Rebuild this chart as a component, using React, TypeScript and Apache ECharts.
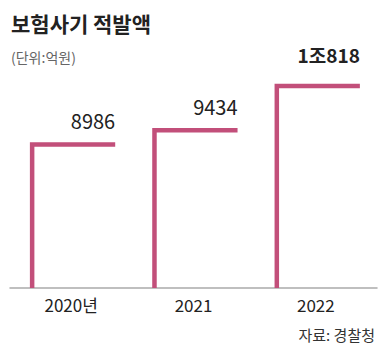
import React, { useEffect, useRef } from "react";
import * as echarts from "echarts";

const categories = ["2020년", "2021", "2022"];
const values = [8986, 9434, 10818];
const valueLabels = ["8986", "9434", "1조818"];

const PINK = "#c24f7a";
const FONT = "'Noto Sans CJK KR', 'Noto Sans', sans-serif";

export default function App() {
  const ref = useRef<HTMLDivElement>(null);
  useEffect(() => {
    if (!ref.current) return;
    const chart = echarts.init(ref.current, undefined, { renderer: "svg" });
    const option: any = {
      animation: false,
      backgroundColor: "#ffffff",
      title: [
        {
          text: "보험사기 적발액",
          left: 6,
          top: 7,
          textStyle: { fontFamily: FONT, fontSize: 21, fontWeight: "bold", color: "#222" },
        },
        {
          text: "(단위:억원)",
          left: 6,
          top: 45,
          textStyle: { fontFamily: FONT, fontSize: 14, fontWeight: "normal", color: "#666" },
        },
      ],
      grid: { left: 10, right: 11, top: 86, bottom: 64 },
      xAxis: {
        type: "category",
        data: categories,
        axisLine: { lineStyle: { color: "#aaa", width: 1.5 } },
        axisTick: { show: false },
        axisLabel: { fontFamily: FONT, fontSize: 17, color: "#222", margin: 8 },
      },
      yAxis: {
        type: "value",
        min: 4500,
        max: 10818,
        show: false,
        splitLine: { show: false },
      },
      series: [
        {
          type: "custom",
          data: values.map((v, i) => [i, v]),
          renderItem: (params: any, api: any) => {
            const idx = api.value(0);
            const val = api.value(1);
            const top = api.coord([idx, val]);
            const base = api.coord([idx, 4500]);
            const band = api.size([1, 0])[0];
            const xl = top[0] - band * 0.319;
            const xr = top[0] + band * 0.36;
            const isLast = params.dataIndex === values.length - 1;
            return {
              type: "group",
              children: [
                {
                  type: "polyline",
                  shape: { points: [[xl, base[1]], [xl, top[1]], [xr, top[1]]] },
                  style: { stroke: PINK, lineWidth: 4.5, fill: null, lineJoin: "miter", lineCap: "butt" },
                },
                {
                  type: "text",
                  style: {
                    text: valueLabels[params.dataIndex],
                    x: xr,
                    y: top[1] - (isLast ? 22 : 14),
                    align: "right",
                    verticalAlign: "bottom",
                    font: `${isLast ? "bold " : ""}${isLast ? 19 : 20}px ${FONT}`,
                    fill: "#222",
                  },
                },
              ],
            };
          },
        },
      ],
      graphic: [
        {
          type: "text",
          right: 13,
          top: 327,
          style: { text: "자료: 경찰청", font: `15px ${FONT}`, fill: "#333" },
        },
      ],
    };
    chart.setOption(option);
    return () => chart.dispose();
  }, []);
  return (
    <div
      ref={ref}
      style={{ position: "fixed", left: 0, top: 0, width: 388, height: 352 }}
    />
  );
}
